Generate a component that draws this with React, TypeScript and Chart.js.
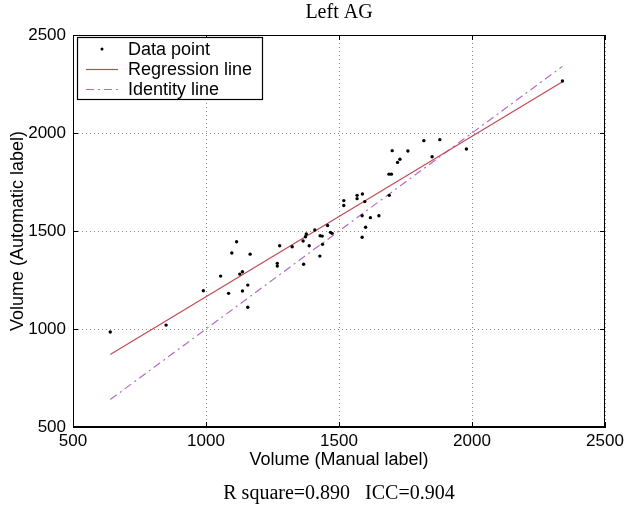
import { useEffect, useRef } from "react";
import { Chart, registerables } from "chart.js";

Chart.register(...registerables);

// Manual vs automatic volume measurements (one entry per subject)
const manualVolume = [
  640, 850, 990, 1055, 1085, 1097, 1115, 1127, 1137, 1137, 1157, 1157, 1166,
  1268, 1268, 1277, 1324, 1365, 1367, 1374, 1377, 1388, 1409, 1428, 1429, 1437,
  1438, 1457, 1468, 1474, 1518, 1518, 1568, 1568, 1588, 1597, 1587, 1618, 1650,
  1600, 1587, 1689, 1688, 1697, 1720, 1729, 1700, 1759, 1819, 1879, 1850, 1979,
  2340,
];
const automaticVolume = [
  985, 1020, 1195, 1270, 1182, 1388, 1445, 1280, 1292, 1194, 1224, 1111, 1382,
  1335, 1321, 1425, 1420, 1449, 1330, 1471, 1485, 1425, 1505, 1372, 1476, 1474,
  1432, 1528, 1493, 1488, 1655, 1630, 1682, 1665, 1689, 1650, 1578, 1568, 1578,
  1519, 1468, 1682, 1790, 1790, 1850, 1866, 1910, 1908, 1961, 1966, 1879, 1918,
  2265,
];

// Fitted regression line end points
const regressionX = [640, 2340];
const regressionY = [870, 2262];

// Identity line (y = x) end points
const identityX = [640, 2340];
const identityY = [640, 2340];

const axisTicks = [500, 1000, 1500, 2000, 2500];
const axisMin = 500;
const axisMax = 2500;

const plotTitle = "Left AG";
const statsCaption = "R square=0.890   ICC=0.904";

const SANS = '"Liberation Sans", Arial, Helvetica, sans-serif';
const SERIF = '"Liberation Serif", "Times New Roman", serif';

// Title above and statistics caption below, both centred on the plot area
const captionsPlugin = {
  id: "captions",
  afterDraw(chart: any) {
    const { ctx, chartArea } = chart;
    const cx = (chartArea.left + chartArea.right) / 2;
    ctx.save();
    ctx.fillStyle = "#000";
    ctx.textAlign = "center";
    ctx.textBaseline = "middle";
    ctx.font = `20px ${SERIF}`;
    ctx.fillText(plotTitle, cx, chartArea.top - 22);
    ctx.fillText(statsCaption, cx, chart.height - 24);
    ctx.restore();
  },
};

// Closed frame with inward tick marks on all four sides
const framePlugin = {
  id: "frame",
  afterDatasetsDraw(chart: any) {
    const { ctx, chartArea } = chart;
    const { left, right, top, bottom } = chartArea;
    const xs = chart.scales.x;
    const ys = chart.scales.y;
    const tickLen = 5;
    ctx.save();
    ctx.strokeStyle = "#000";
    ctx.lineWidth = 1;
    ctx.setLineDash([]);
    ctx.strokeRect(left + 0.5, top + 0.5, right - left - 1, bottom - top - 1);
    ctx.beginPath();
    axisTicks.forEach((v) => {
      const px = Math.round(xs.getPixelForValue(v)) + 0.5;
      ctx.moveTo(px, bottom);
      ctx.lineTo(px, bottom - tickLen);
      ctx.moveTo(px, top);
      ctx.lineTo(px, top + tickLen);
      const py = Math.round(ys.getPixelForValue(v)) + 0.5;
      ctx.moveTo(left, py);
      ctx.lineTo(left + tickLen, py);
      ctx.moveTo(right, py);
      ctx.lineTo(right - tickLen, py);
    });
    ctx.stroke();
    ctx.restore();
  },
};

// Boxed legend in the upper-left corner of the plot
const insetLegendPlugin = {
  id: "insetLegend",
  afterDraw(chart: any) {
    const { ctx, chartArea } = chart;
    const x0 = chartArea.left + 4;
    const y0 = chartArea.top + 2;
    const w = 185;
    const h = 62;
    ctx.save();
    ctx.fillStyle = "#fff";
    ctx.fillRect(x0, y0, w, h);
    ctx.strokeStyle = "#000";
    ctx.lineWidth = 1.2;
    ctx.setLineDash([]);
    ctx.strokeRect(x0 + 0.5, y0 + 0.5, w, h);
    ctx.font = `18px ${SANS}`;
    ctx.textBaseline = "middle";
    ctx.textAlign = "left";
    chart.data.datasets.forEach((ds: any, i: number) => {
      const cy = y0 + 12 + i * 20;
      const sx0 = x0 + 9;
      const sx1 = x0 + 41;
      if (ds.showLine === false) {
        ctx.fillStyle = ds.backgroundColor;
        ctx.beginPath();
        ctx.arc((sx0 + sx1) / 2, cy, 1.5, 0, Math.PI * 2);
        ctx.fill();
      } else {
        ctx.strokeStyle = ds.borderColor;
        ctx.lineWidth = ds.borderWidth;
        ctx.setLineDash(ds.borderDash || []);
        ctx.beginPath();
        ctx.moveTo(sx0, cy + 0.5);
        ctx.lineTo(sx1, cy + 0.5);
        ctx.stroke();
        ctx.setLineDash([]);
      }
      ctx.fillStyle = "#000";
      ctx.fillText(ds.label, x0 + 51, cy + 1);
    });
    ctx.restore();
  },
};

export default function App() {
  const canvasRef = useRef<HTMLCanvasElement | null>(null);

  useEffect(() => {
    document.body.style.margin = "0";
    const canvas = canvasRef.current;
    if (!canvas) return;

    const points = manualVolume.map((x, i) => ({ x, y: automaticVolume[i] }));
    const regression = regressionX.map((x, i) => ({ x, y: regressionY[i] }));
    const identity = identityX.map((x, i) => ({ x, y: identityY[i] }));

    const plainTick = (value: any) => String(value);

    const chart = new Chart(canvas, {
      type: "scatter",
      data: {
        datasets: [
          {
            label: "Data point",
            data: points,
            showLine: false,
            pointRadius: 1.7,
            pointBorderWidth: 0,
            backgroundColor: "#000",
            borderColor: "#000",
            order: 1,
          },
          {
            label: "Regression line",
            data: regression,
            showLine: true,
            pointRadius: 0,
            borderColor: "#c24a55",
            backgroundColor: "#c24a55",
            borderWidth: 1.2,
            order: 2,
          },
          {
            label: "Identity line",
            data: identity,
            showLine: true,
            pointRadius: 0,
            borderColor: "#b46cc4",
            backgroundColor: "#b46cc4",
            borderWidth: 1.2,
            borderDash: [8, 4, 2, 4],
            order: 3,
          },
        ],
      },
      options: {
        animation: false,
        responsive: true,
        maintainAspectRatio: false,
        layout: { padding: { left: 0, right: 24, top: 35, bottom: 43 } },
        plugins: {
          legend: { display: false },
          tooltip: { enabled: false },
          title: { display: false },
        },
        scales: {
          x: {
            type: "linear",
            min: axisMin,
            max: axisMax,
            afterBuildTicks: (scale: any) => {
              scale.ticks = axisTicks.map((value) => ({ value }));
            },
            afterFit: (scale: any) => {
              scale.height = 48;
            },
            ticks: {
              color: "#000",
              font: { family: SANS, size: 17 },
              padding: 4,
              maxRotation: 0,
              callback: plainTick,
            },
            grid: {
              color: "rgba(0,0,0,0.45)",
              lineWidth: 1,
              drawTicks: false,
            },
            border: { display: true, color: "#000", dash: [1, 3] },
            title: {
              display: true,
              text: "Volume (Manual label)",
              color: "#000",
              font: { family: SANS, size: 18 },
              padding: 4,
            },
          },
          y: {
            type: "linear",
            min: axisMin,
            max: axisMax,
            afterBuildTicks: (scale: any) => {
              scale.ticks = axisTicks.map((value) => ({ value }));
            },
            afterFit: (scale: any) => {
              scale.width = 73;
            },
            ticks: {
              color: "#000",
              font: { family: SANS, size: 17 },
              padding: 7,
              callback: plainTick,
            },
            grid: {
              color: "rgba(0,0,0,0.45)",
              lineWidth: 1,
              drawTicks: false,
            },
            border: { display: true, color: "#000", dash: [1, 3] },
            title: {
              display: true,
              text: "Volume (Automatic label)",
              color: "#000",
              font: { family: SANS, size: 18 },
              padding: 7,
            },
          },
        },
      },
      plugins: [framePlugin, insetLegendPlugin, captionsPlugin],
    } as any);

    return () => chart.destroy();
  }, []);

  return (
    <div style={{ position: "fixed", left: 0, top: 0, width: 629, height: 518, background: "#fff" }}>
      <canvas ref={canvasRef} />
    </div>
  );
}
